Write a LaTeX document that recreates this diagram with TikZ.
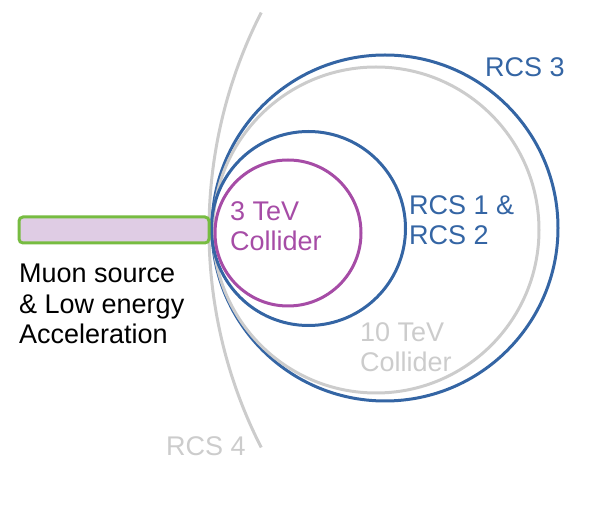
\documentclass[tikz,border=0pt]{standalone}
\usepackage{fontspec}
\setmainfont{Liberation Sans}
\usepackage{tikz}
\definecolor{rcsblue}{HTML}{3465A4}
\definecolor{collpurple}{HTML}{A64CA6}
\definecolor{ringgray}{HTML}{CCCCCC}
\definecolor{srcgreen}{HTML}{77BC41}
\definecolor{srcfill}{HTML}{DFCCE4}
\tikzstyle{ring} = [draw, circle, inner sep=0pt, line width=3pt]
\tikzstyle{label} = [inner sep=0pt, align=left, anchor=base west,
    font=\fontsize{27}{30.5}\selectfont]
\tikzstyle{source} = [draw=srcgreen, fill=srcfill, rectangle, line width=3pt,
    rounded corners=4pt, minimum width=190pt, minimum height=26pt]

\begin{document}
\begin{tikzpicture}[x=1pt, y=1pt]
	\useasboundingbox (0,0) rectangle (598,509);

	% RCS 4 (big arc)
	\draw [ringgray, line width=3pt] (688,279) ++(153:479) arc (153:207:479);

	% Rings
	\node [ring, rcsblue, minimum size=346pt] (rcs3) at (385,281) {};
	\node [ring, ringgray, minimum size=326pt] (tenTeV) at (376,279) {};
	\node [ring, rcsblue, minimum size=194pt] (rcs12) at (308.5,280.5) {};
	\node [ring, collpurple, minimum size=146pt] (threeTeV) at (288,276) {};

	% Muon source block
	\node [source] (src) at (114,279) {};

	% Labels (base = last line)
	\node [label, text=rcsblue] (lrcs3) at (485,432) {RCS 3};
	\node [label, text=rcsblue] (lrcs12) at (409,264) {RCS 1 \&\\RCS 2};
	\node [label, text=collpurple] (lthree) at (230,258) {3 TeV\\Collider};
	\node [label, text=ringgray] (lten) at (360,137) {10 TeV\\Collider};
	\node [label, text=ringgray] (lrcs4) at (166,53) {RCS 4};
	\node [label] (lsrc) at (19,165) {Muon source\\\& Low energy\\Acceleration};
\end{tikzpicture}
\end{document}
